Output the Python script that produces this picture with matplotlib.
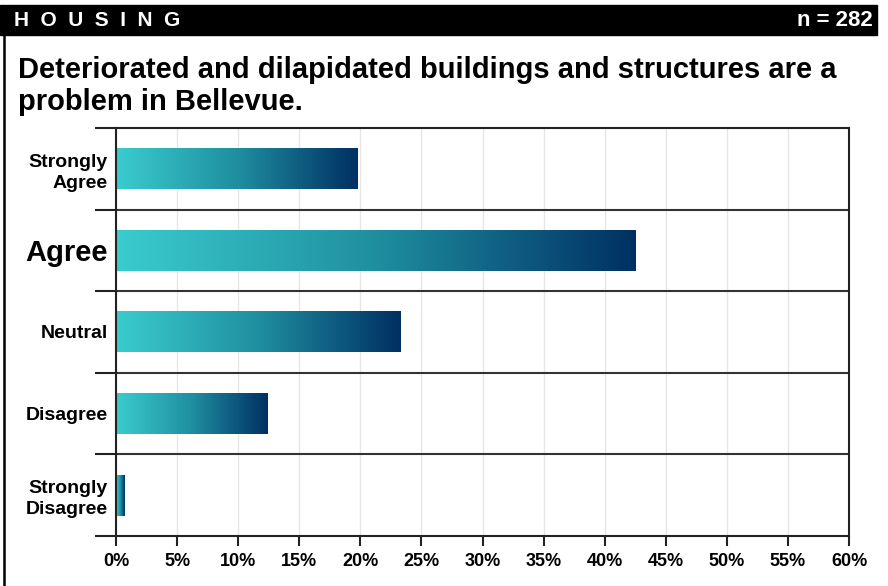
import matplotlib.pyplot as plt
import numpy as np
from matplotlib.colors import LinearSegmentedColormap

# data
categories = ["Strongly\nAgree", "Agree", "Neutral", "Disagree", "Strongly\nDisagree"]
percents = [19.8, 42.5, 23.3, 12.4, 0.7]
xticks = [0, 5, 10, 15, 20, 25, 30, 35, 40, 45, 50, 55, 60]

plt.rcParams['font.family'] = ['Liberation Sans', 'DejaVu Sans']

fig = plt.figure(figsize=(8.88, 5.86), dpi=100)

# header bar and left border
fig.patches.append(plt.Rectangle((0, 1 - 35 / 586), 877 / 888, 30 / 586,
                                 transform=fig.transFigure, color='black', zorder=0))
fig.add_artist(plt.Line2D([3.5 / 888, 3.5 / 888], [0, 1 - 35 / 586],
                          transform=fig.transFigure, color='black', lw=1.8))
fig.text(14 / 888, 1 - 20 / 586, "H  O  U  S  I  N  G", color='white', fontsize=15,
         fontweight='bold', va='center', ha='left')
fig.text(873 / 888, 1 - 20 / 586, "n = 282", color='white', fontsize=16,
         fontweight='bold', va='center', ha='right')
fig.text(18 / 888, 1 - 56 / 586,
         "Deteriorated and dilapidated buildings and structures are a\nproblem in Bellevue.",
         fontsize=21, fontweight='bold', va='top', ha='left', linespacing=1.2)

ax = fig.add_axes([116 / 888, 1 - 536 / 586, 733 / 888, 408 / 586])

cmap = LinearSegmentedColormap.from_list('bar', ['#3accce', '#1f8fa0', '#003063'])
grad = np.linspace(0, 1, 256).reshape(1, -1)
for i, v in enumerate(percents):
    ax.imshow(grad, cmap=cmap, aspect='auto', interpolation='bicubic',
              extent=[0, v, i + 0.25, i - 0.25], zorder=2)

ax.set_xlim(0, 60)
ax.set_ylim(len(categories) - 0.5, -0.5)

ax.set_xticks(xticks)
ax.set_xticklabels([f"{t}%" for t in xticks], fontsize=13, fontweight='bold')
ax.tick_params(axis='x', length=7, width=1.5, color='#222222', pad=5)
ax.xaxis.grid(True, color='#e6e6e6', lw=1, zorder=0)

ax.set_yticks(np.arange(-0.5, len(categories), 1))
ax.set_yticklabels([])
ax.tick_params(axis='y', which='major', length=15, width=1.5, color='#222222')
ax.set_yticks(range(len(categories)), minor=True)
ax.set_yticklabels(categories, minor=True, fontsize=14, fontweight='bold',
                   linespacing=1.32)
ax.tick_params(axis='y', which='minor', length=0, pad=6)
ax.get_yticklabels(minor=True)[1].set_fontsize(21)
for y in range(1, len(categories)):
    ax.axhline(y - 0.5, color='#333333', lw=1.5, zorder=1)

ax.set_axisbelow(True)
for s in ax.spines.values():
    s.set_linewidth(1.5)
    s.set_color('#222222')

fig.savefig('out.png', dpi=100)
